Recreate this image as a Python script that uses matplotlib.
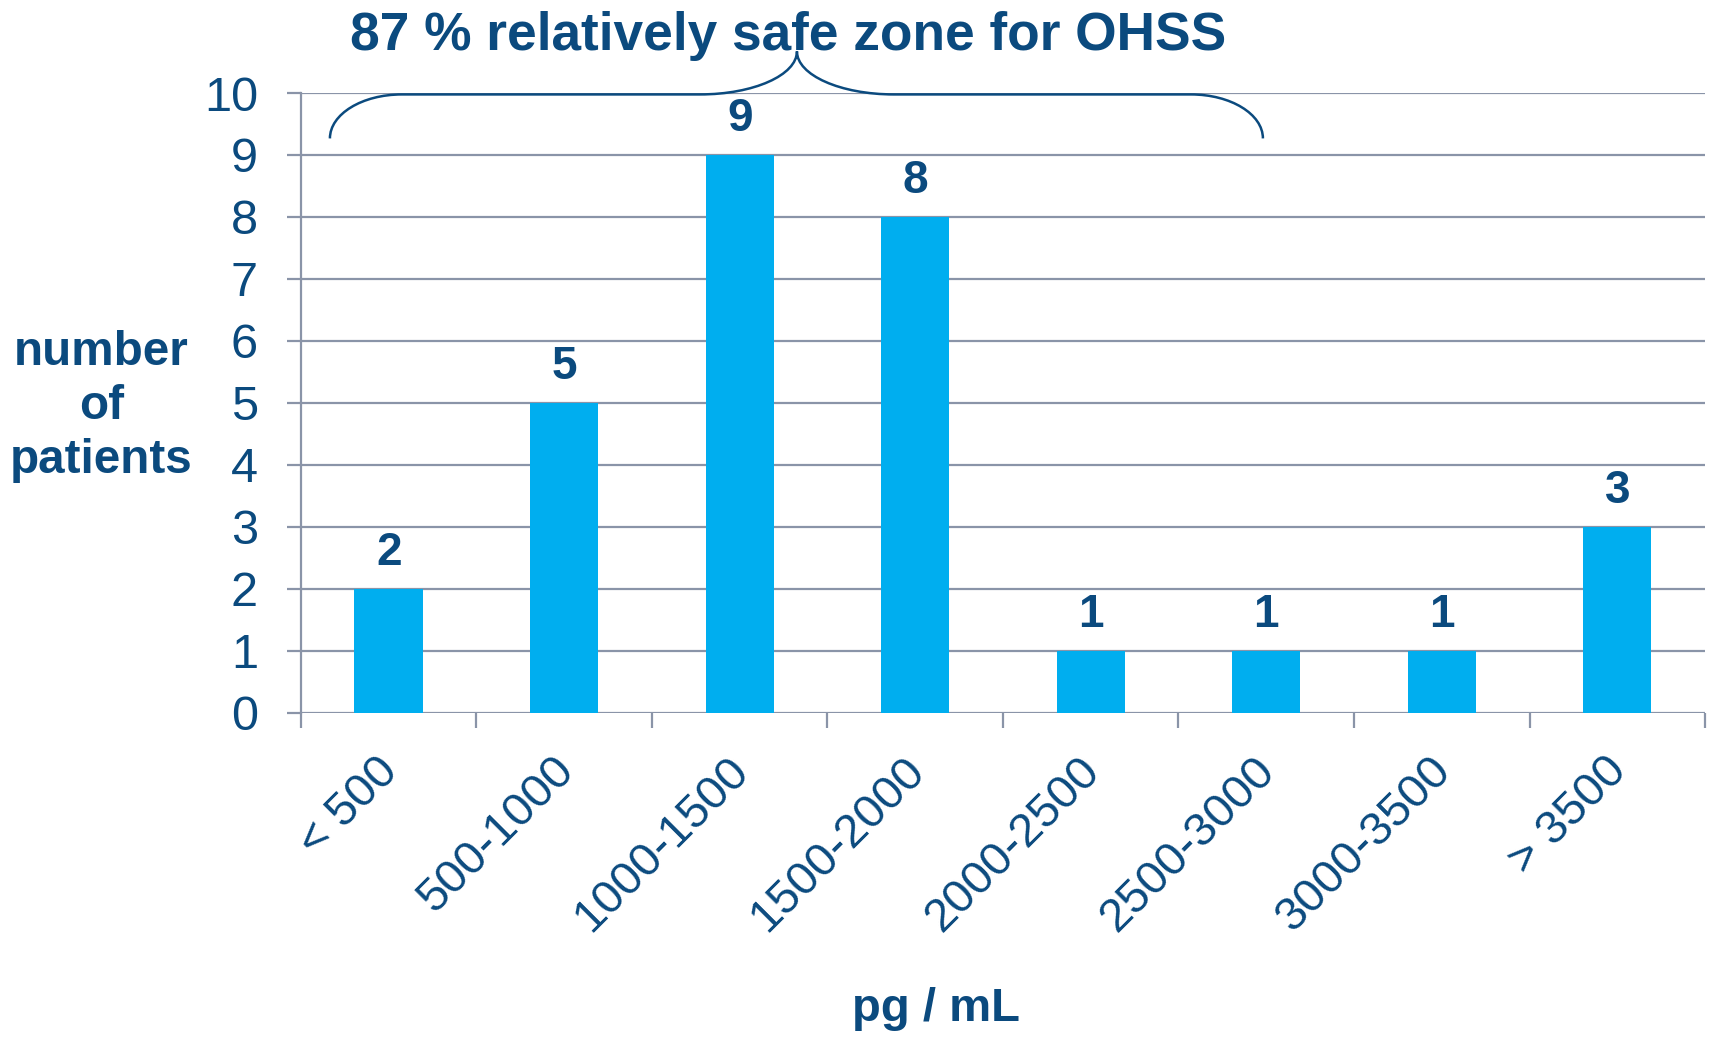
"""
Estradiol level distribution with the OHSS safe-zone brace
"""

import numpy as np
import matplotlib.pyplot as plt
from matplotlib.path import Path
from matplotlib.patches import PathPatch
from matplotlib.transforms import ScaledTranslation

categories = ["< 500", "500-1000", "1000-1500", "1500-2000",
              "2000-2500", "2500-3000", "3000-3500", "> 3500"]
patients = [2, 5, 9, 8, 1, 1, 1, 3]
y_ticks = list(range(0, 11))

dark = "#0B4A7E"
bar_color = "#00AEEF"
grid_color = "#8A94A8"

plt.rcParams["font.family"] = ["Liberation Sans", "DejaVu Sans"]

fig = plt.figure(figsize=(17.11, 10.38), dpi=100)
ax = fig.add_axes([0.1759, 0.3135, 0.8206, 0.5969])

x = np.arange(len(categories))
ax.bar(x, patients, width=0.39, color=bar_color, zorder=3)

# value labels on top of the bars
for xi, v in zip(x, patients):
    ax.text(xi, v + 0.22, str(v), ha="center", va="bottom",
            fontsize=33, fontweight="bold", color=dark)

ax.set_xlim(-0.5, len(categories) - 0.5)
ax.set_ylim(0, 10)
ax.set_yticks(y_ticks)
ax.yaxis.grid(True, color=grid_color, linewidth=1.6, zorder=0)
ax.set_axisbelow(True)

for side in ["top", "right", "bottom"]:
    ax.spines[side].set_visible(False)
ax.spines["left"].set_color(grid_color)
ax.spines["left"].set_linewidth(1.6)

ax.tick_params(axis="y", colors=dark, labelsize=35, length=10,
               width=1.6, color=grid_color, pad=21)

# category labels at the centres, tick marks at the boundaries
ax.set_xticks(x)
ax.set_xticklabels(categories, rotation=45, ha="right",
                   rotation_mode="anchor", fontsize=34, color=dark)
ax.set_xticks(np.arange(-0.5, len(categories)), minor=True)
ax.tick_params(axis="x", which="major", length=0, pad=26)
ax.tick_params(axis="x", which="minor", length=11, width=1.6,
               color=grid_color)
shift = ScaledTranslation(-0.13, 0, fig.dpi_scale_trans)
for lab in ax.get_xticklabels():
    lab.set_transform(lab.get_transform() + shift)

ax.set_ylabel("number\nof\npatients", rotation=0, fontsize=34.3,
              fontweight="bold", color=dark, ha="center", va="center",
              linespacing=1.25)
ax.yaxis.set_label_coords(-0.142, 0.494)
ax.set_xlabel("pg / mL", fontsize=34, fontweight="bold", color=dark,
              va="center")
ax.xaxis.set_label_coords(0.452, -0.479)

# curly brace over the first five categories (quarter-ellipse pieces)
k = 0.5523
x0, x1, xp = -0.335, 4.981, 2.326
yb, yh, yp = 9.267, 9.977, 10.672
re, rm = 0.41, 0.553
verts = [
    (x0, yb), (x0, yb + k * (yh - yb)), (x0 + re - k * re, yh), (x0 + re, yh),
    (xp - rm, yh),
    (xp - rm + k * rm, yh), (xp, yp - k * (yp - yh)), (xp, yp),
    (xp, yp - k * (yp - yh)), (xp + rm - k * rm, yh), (xp + rm, yh),
    (x1 - re, yh),
    (x1 - re + k * re, yh), (x1, yb + k * (yh - yb)), (x1, yb),
]
codes = [Path.MOVETO, Path.CURVE4, Path.CURVE4, Path.CURVE4,
         Path.LINETO,
         Path.CURVE4, Path.CURVE4, Path.CURVE4,
         Path.CURVE4, Path.CURVE4, Path.CURVE4,
         Path.LINETO,
         Path.CURVE4, Path.CURVE4, Path.CURVE4]
brace = PathPatch(Path(verts, codes), facecolor="none", edgecolor=dark,
                  linewidth=1.8, clip_on=False, zorder=4)
ax.add_patch(brace)

fig.text(0.4605, 0.965, "87 % relatively safe zone for OHSS", ha="center",
         va="center", fontsize=38.3, fontweight="bold", color=dark)

fig.savefig("out.png", dpi=100)
